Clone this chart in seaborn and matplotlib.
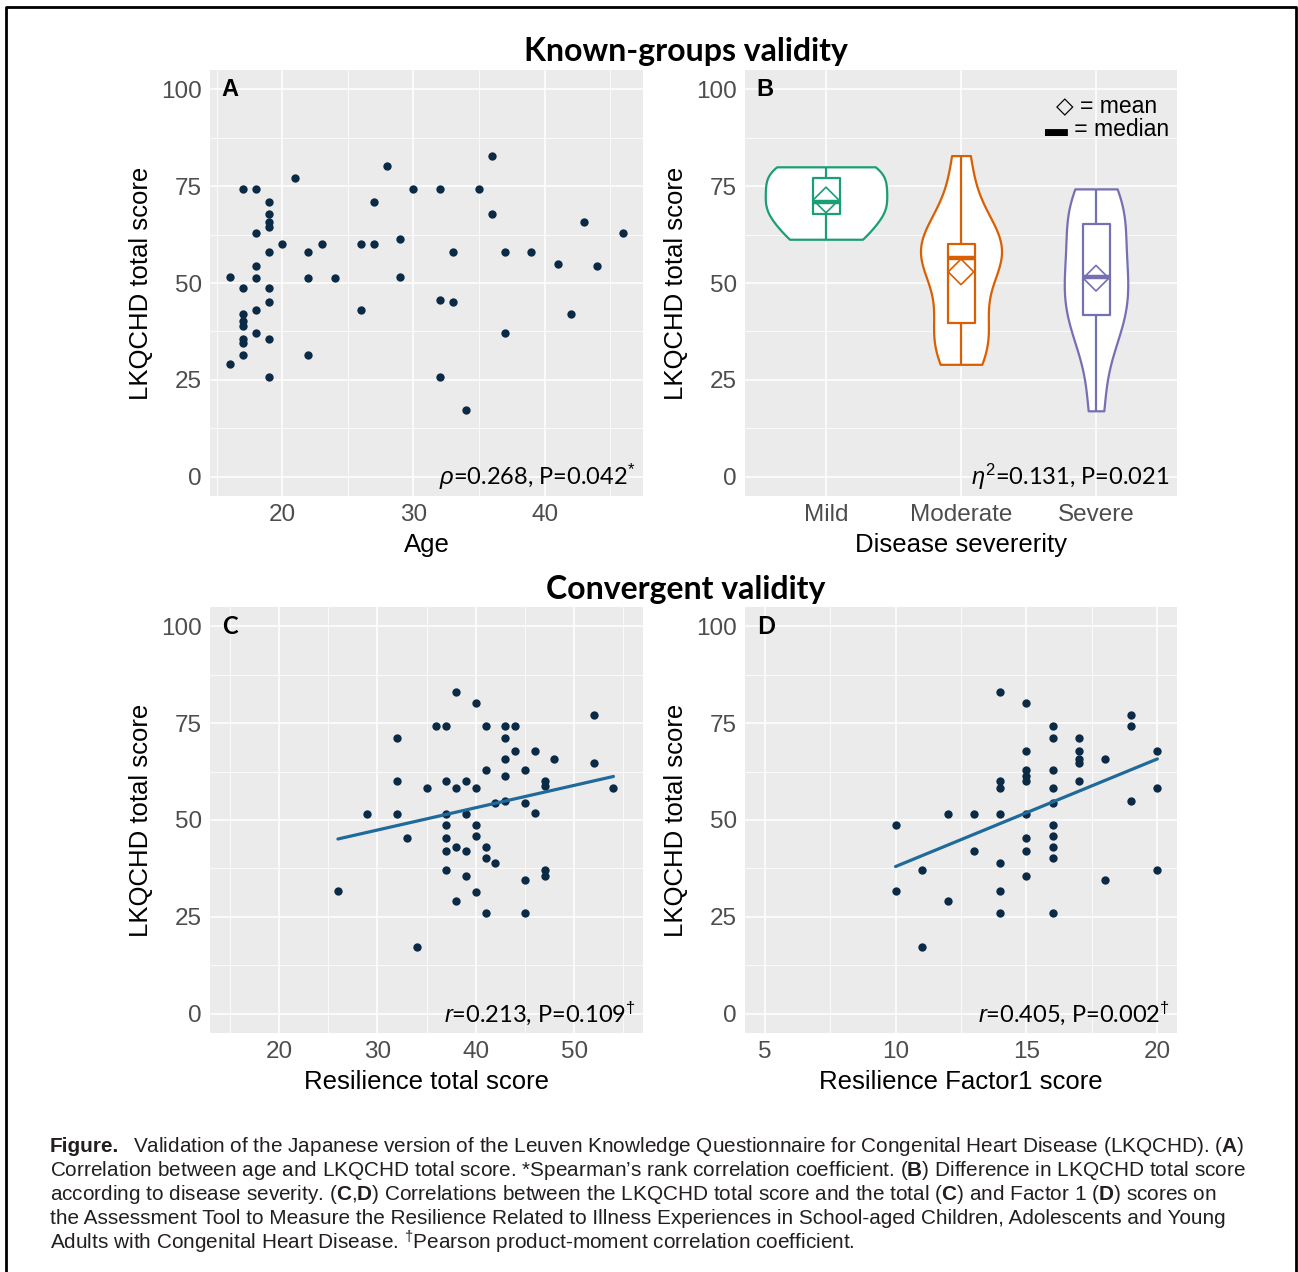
import numpy as np
import pandas as pd
import matplotlib
matplotlib.use('Agg')
import matplotlib.pyplot as plt
import matplotlib.transforms as mtransforms
from matplotlib.lines import Line2D
from matplotlib.ticker import FixedLocator
import seaborn as sns

# ── Data ──────────────────────────────────────────────────────────────────────
age = [16, 16, 17, 18, 19, 19, 19, 19, 18, 19, 20, 21, 22, 23, 18, 18, 22, 24,
       17, 19, 19, 18, 17, 17, 17, 17, 17, 18, 19, 17, 22, 19, 28, 27, 26, 27,
       29, 29, 26, 30, 32, 35, 36, 36, 33, 37, 39, 32, 33, 37, 32, 34, 41, 43,
       44, 42, 46]
age_score = [51.6, 29.1, 74.2, 74.2, 71.0, 67.8, 65.8, 64.5, 62.9, 58.1, 60.0,
             77.2, 58.1, 60.0, 54.3, 51.4, 51.4, 51.4, 48.6, 48.6, 45.1, 42.9,
             41.9, 40.2, 38.9, 35.6, 34.4, 37.1, 35.5, 31.4, 31.4, 25.8, 80.1,
             71.0, 60.0, 60.0, 61.3, 51.6, 42.9, 74.2, 74.2, 74.2, 82.9, 67.8,
             58.1, 58.1, 58.1, 45.7, 45.1, 37.1, 25.8, 17.1, 54.8, 65.7, 54.3,
             41.9, 62.9]

severity_levels = ['Mild', 'Moderate', 'Severe']
mild_scores = [61.3, 67.8, 71.0, 77.1, 80.0]
moderate_scores = [29.0, 32.3, 35.5, 39.6, 45.1, 54.8, 56.5, 58.1, 58.1, 60.0,
                   64.5, 71.0, 82.9]
severe_scores = [17.0, 32.3, 38.7, 42.9, 45.1, 51.6, 51.6, 58.1, 64.5, 67.8,
                 71.0, 74.3]

resil_total = [26, 29, 32, 32, 32, 33, 34, 35, 36, 37, 37, 37, 37, 37, 37, 37,
               38, 38, 38, 38, 39, 39, 39, 39, 40, 40, 40, 40, 40, 41, 41, 41,
               41, 41, 42, 42, 43, 43, 43, 43, 43, 44, 44, 45, 45, 45, 45, 46,
               46, 47, 47, 47, 47, 48, 52, 52, 54]
resil_total_score = [31.6, 51.5, 71.1, 60.1, 51.5, 45.3, 17.1, 58.2, 74.3, 74.3,
                     60.1, 51.5, 48.7, 45.3, 42.0, 37.2, 83.1, 58.2, 42.9, 29.1,
                     60.1, 51.5, 42.0, 35.6, 80.1, 58.2, 48.7, 45.8, 31.5, 74.3,
                     63.0, 42.9, 40.1, 25.9, 54.4, 38.8, 74.3, 71.1, 65.8, 61.4,
                     54.9, 74.3, 67.8, 63.0, 54.4, 34.4, 25.9, 67.8, 51.8, 60.1,
                     58.7, 37.2, 35.6, 65.8, 77.2, 64.6, 58.2]

resil_f1 = [10, 10, 11, 11, 12, 12, 13, 13, 14, 14, 14, 14, 14, 14, 14, 15, 15,
            15, 15, 15, 15, 15, 15, 15, 16, 16, 16, 16, 16, 16, 16, 16, 16, 16,
            17, 17, 17, 17, 17, 18, 18, 19, 19, 19, 20, 20, 20]
resil_f1_score = [48.7, 31.6, 37.2, 17.1, 51.5, 29.1, 51.5, 42.0, 83.1, 60.1,
                  58.2, 51.5, 38.8, 31.6, 25.9, 80.1, 67.8, 63.0, 61.4, 60.1,
                  51.5, 45.3, 42.0, 35.6, 74.3, 71.1, 63.0, 58.2, 54.4, 48.7,
                  45.8, 42.9, 40.1, 25.9, 71.1, 67.8, 65.8, 64.6, 60.1, 65.8,
                  34.4, 77.2, 74.3, 54.9, 67.8, 58.2, 37.2]

annotations = [r'$\rho$=0.268, P=0.042$^{*}$', r'$\eta^{2}$=0.131, P=0.021',
               r'$r$=0.213, P=0.109$^{\dagger}$', r'$r$=0.405, P=0.002$^{\dagger}$']

caption_lines = [
    r'Validation of the Japanese version of the Leuven Knowledge Questionnaire for Congenital Heart Disease (LKQCHD). ($\mathbf{A}$)',
    r'Correlation between age and LKQCHD total score. *Spearman’s rank correlation coefficient. ($\mathbf{B}$) Difference in LKQCHD total score',
    r'according to disease severity. ($\mathbf{C}$,$\mathbf{D}$) Correlations between the LKQCHD total score and the total ($\mathbf{C}$) and Factor 1 ($\mathbf{D}$) scores on',
    r'the Assessment Tool to Measure the Resilience Related to Illness Experiences in School-aged Children, Adolescents and Young',
    r'Adults with Congenital Heart Disease. $^{\dagger}$Pearson product-moment correlation coefficient.',
]

# ── Style ─────────────────────────────────────────────────────────────────────
W, H = 1298, 1272
POINT_COLOR = '#0B2A45'
LINE_COLOR = '#1F6A9A'
GROUP_COLORS = ['#1B9E77', '#D95F02', '#7570B3']
VIOLIN_WIDTHS = [0.9, 0.6, 0.47]   # max width of each violin, as in the figure
TICK_GREY = '#4D4D4D'

sns.set_theme(style='darkgrid', rc={
    'axes.facecolor': '#EBEBEB',
    'grid.color': 'white',
    'grid.linewidth': 1.1,
    'axes.edgecolor': '#EBEBEB',
})
plt.rcParams['font.family'] = ['Liberation Sans', 'DejaVu Sans']
plt.rcParams['mathtext.fontset'] = 'custom'
plt.rcParams['mathtext.rm'] = 'Liberation Sans'
plt.rcParams['mathtext.it'] = 'Liberation Sans:italic'
plt.rcParams['mathtext.bf'] = 'Liberation Sans:bold'

fig = plt.figure(figsize=(W / 100, H / 100), dpi=100)


def rect(l, t, r, b):
    return [l / W, 1 - b / H, (r - l) / W, (b - t) / H]


def style_axes(ax, xlabel, letter, letter_font, note, xlim, xticks, xminor):
    ax.set_ylim(-5, 105)
    ax.set_yticks([0, 25, 50, 75, 100])
    ax.yaxis.set_minor_locator(FixedLocator([12.5, 37.5, 62.5, 87.5]))
    ax.set_xlim(*xlim)
    if xticks is not None:
        ax.set_xticks(xticks)
    if xminor:
        ax.xaxis.set_minor_locator(FixedLocator(xminor))
    ax.grid(which='major', color='white', linewidth=1.1)
    ax.grid(which='minor', color='white', linewidth=0.55)
    for s in ax.spines.values():
        s.set_visible(False)
    ax.tick_params(which='major', length=4, width=1, color='#333333',
                   labelsize=17.5, labelcolor=TICK_GREY, pad=2)
    ax.tick_params(which='minor', length=0)
    ax.set_xlabel(xlabel, fontsize=18.5, color='black', labelpad=5)
    ax.set_ylabel('LKQCHD total score', fontsize=18.5, color='black', labelpad=6)
    tr = mtransforms.blended_transform_factory(ax.transAxes, ax.transData)
    ax.text(0.027, 100, letter, transform=tr, ha='left', va='center',
            fontsize=17, fontweight='bold', family=letter_font, color='black')
    ax.text(0.983, 0, note, transform=tr, ha='right', va='center',
            fontsize=17, family=['Lato', 'DejaVu Sans'], color='black')


# ── A: age scatter ────────────────────────────────────────────────────────────
axA = fig.add_axes(rect(210, 70, 643, 496))
sns.scatterplot(x=age, y=age_score, ax=axA, color=POINT_COLOR, s=36,
                linewidth=0, zorder=3)
style_axes(axA, 'Age', 'A', ['Liberation Sans'], annotations[0],
           (14.5, 47.5), [20, 30, 40], [15, 25, 35, 45])

# ── B: violins by severity ────────────────────────────────────────────────────
sev_df = pd.DataFrame({
    'severity': (['Mild'] * len(mild_scores) + ['Moderate'] * len(moderate_scores)
                 + ['Severe'] * len(severe_scores)),
    'score': mild_scores + moderate_scores + severe_scores,
})
axB = fig.add_axes(rect(745, 70, 1177, 496))
for level, col, vw in zip(severity_levels, GROUP_COLORS, VIOLIN_WIDTHS):
    sns.violinplot(data=sev_df[sev_df['severity'] == level], x='severity',
                   y='score', order=severity_levels, color=col, cut=0,
                   inner=None, width=vw, density_norm='width', bw_adjust=0.85,
                   linewidth=1.6, ax=axB)
    coll = axB.collections[-1]
    coll.set_edgecolor(col)
    coll.set_facecolor('white')
    coll.set_zorder(2)
sns.boxplot(data=sev_df, x='severity', y='score', hue='severity',
            order=severity_levels, hue_order=severity_levels,
            palette=GROUP_COLORS, fill=False, width=0.2, whis=(0, 100),
            showcaps=False, showfliers=False, linewidth=1.6,
            medianprops={'linewidth': 3.2}, legend=False, ax=axB)
means = sev_df.groupby('severity')['score'].mean().reindex(severity_levels)
axB.scatter(range(len(severity_levels)), means.values, marker='D', s=170,
            facecolors='none', edgecolors=GROUP_COLORS, linewidths=1.2, zorder=5)
style_axes(axB, 'Disease severerity', 'B', ['Liberation Sans'], annotations[1],
           (-0.6, 2.6), None, None)
axB.text(1107 / W, 1 - 107 / H, '◇ = mean', transform=fig.transFigure,
         ha='center', va='center', fontsize=16.5, color='black',
         family=['Liberation Sans', 'DejaVu Sans'])
axB.text(1107 / W, 1 - 129.5 / H, '▬ = median', transform=fig.transFigure,
         ha='center', va='center', fontsize=16.5, color='black',
         family=['Liberation Sans', 'DejaVu Sans'])

# ── C: resilience total ───────────────────────────────────────────────────────
axC = fig.add_axes(rect(210, 607, 643, 1033))
sns.scatterplot(x=resil_total, y=resil_total_score, ax=axC, color=POINT_COLOR,
                s=36, linewidth=0, zorder=3)
sns.regplot(x=resil_total, y=resil_total_score, ax=axC, scatter=False, ci=None,
            color=LINE_COLOR, line_kws={'linewidth': 2.3, 'zorder': 4})
style_axes(axC, 'Resilience total score', 'C', ['Lato'], annotations[2],
           (13, 57), [20, 30, 40, 50], [15, 25, 35, 45, 55])

# ── D: resilience factor 1 ────────────────────────────────────────────────────
axD = fig.add_axes(rect(745, 607, 1177, 1033))
sns.scatterplot(x=resil_f1, y=resil_f1_score, ax=axD, color=POINT_COLOR,
                s=36, linewidth=0, zorder=3)
sns.regplot(x=resil_f1, y=resil_f1_score, ax=axD, scatter=False, ci=None,
            color=LINE_COLOR, line_kws={'linewidth': 2.3, 'zorder': 4})
style_axes(axD, 'Resilience Factor1 score', 'D', ['Lato'], annotations[3],
           (4.25, 20.75), [5, 10, 15, 20], [7.5, 12.5, 17.5])

# ── Section titles ────────────────────────────────────────────────────────────
fig.text(686 / W, 1 - 51 / H, 'Known-groups validity', ha='center', va='center',
         fontsize=23, fontweight='bold', family=['Lato'], color='black')
fig.text(686 / W, 1 - 589 / H, 'Convergent validity', ha='center', va='center',
         fontsize=23, fontweight='bold', family=['Lato'], color='black')

# ── Caption ───────────────────────────────────────────────────────────────────
line_y = [1146, 1170, 1194, 1218, 1242]
line_x = [133, 50, 50, 50, 50]
cap_texts = []
for txt, x, y in zip(caption_lines, line_x, line_y):
    cap_texts.append(fig.text(x / W, 1 - y / H, txt, ha='left', va='center',
                              fontsize=14, color='#231F20'))
fig_lbl = fig.text(50 / W, 1 - line_y[0] / H, 'Figure.', ha='left', va='center',
                   fontsize=14, fontweight='bold', color='#231F20')
# scale caption so the second line spans the column like the original
fig.canvas.draw()
w = cap_texts[1].get_window_extent().width
size = 14 * 1203 / w
for t in cap_texts:
    t.set_fontsize(size)
fig_lbl.set_fontsize(size)

# ── Frame ─────────────────────────────────────────────────────────────────────
fig.add_artist(Line2D([6 / W, 6 / W, 1296 / W, 1296 / W],
                      [0, 1 - 7 / H, 1 - 7 / H, 0],
                      transform=fig.transFigure, color='black', linewidth=2))

fig.savefig('out.png', dpi=100)
